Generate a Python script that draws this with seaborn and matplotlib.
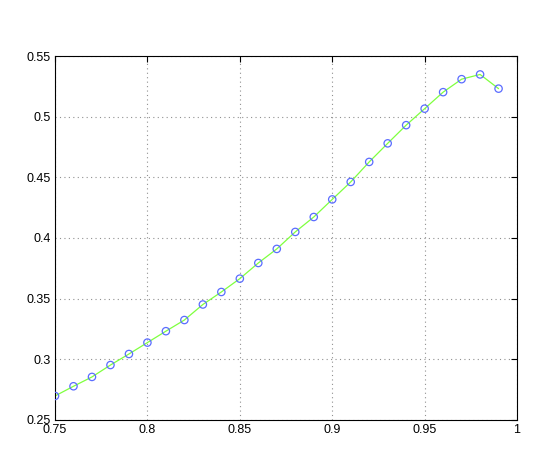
import numpy as np
import pandas as pd
import seaborn as sns
from matplotlib import pyplot as plt

x_vals = [0.75, 0.76, 0.77, 0.78, 0.79, 0.80, 0.81, 0.82, 0.83, 0.84,
          0.85, 0.86, 0.87, 0.88, 0.89, 0.90, 0.91, 0.92, 0.93, 0.94,
          0.95, 0.96, 0.97, 0.98, 0.99]
y_vals = [0.2698, 0.2778, 0.2855, 0.2953, 0.3044, 0.3138, 0.3232, 0.3324, 0.3452, 0.3555,
          0.3665, 0.3794, 0.3910, 0.4050, 0.4173, 0.4318, 0.4462, 0.4627, 0.4780, 0.4930,
          0.5066, 0.5202, 0.5309, 0.5348, 0.5231]
x_ticks = [0.75, 0.8, 0.85, 0.9, 0.95, 1.0]
x_labels = ["0.75", "0.8", "0.85", "0.9", "0.95", "1"]
y_ticks = [0.25, 0.3, 0.35, 0.4, 0.45, 0.5, 0.55]
y_labels = ["0.25", "0.3", "0.35", "0.4", "0.45", "0.5", "0.55"]

df = pd.DataFrame({"x": x_vals, "y": y_vals})

sns.set_style("white")
plt.rcParams['font.family'] = ['Liberation Sans', 'DejaVu Sans']

fig = plt.figure(figsize=(5.54, 4.75), dpi=100)
ax = fig.add_axes([0.0993, 0.1158, 0.8340, 0.7663])

sns.lineplot(data=df, x="x", y="y", ax=ax, color="#7fff3f", linewidth=0.9)
sns.scatterplot(data=df, x="x", y="y", ax=ax, marker="o", s=28,
                facecolor="none", edgecolor="#5a6cff", linewidth=0.9, zorder=3)

ax.set_xlim(0.75, 1.0)
ax.set_ylim(0.25, 0.55)
ax.set_xticks(x_ticks)
ax.set_xticklabels(x_labels)
ax.set_yticks(y_ticks)
ax.set_yticklabels(y_labels)
ax.set_xlabel("")
ax.set_ylabel("")
ax.grid(True, linestyle=(0, (1, 3)), color="#909090", linewidth=0.8)
ax.tick_params(direction="in", length=4, width=0.8, labelsize=9,
               top=True, right=True, colors="black", pad=3)
for s in ax.spines.values():
    s.set_visible(True)
    s.set_color("black")
    s.set_linewidth(0.8)

fig.savefig("out.png", dpi=100)
